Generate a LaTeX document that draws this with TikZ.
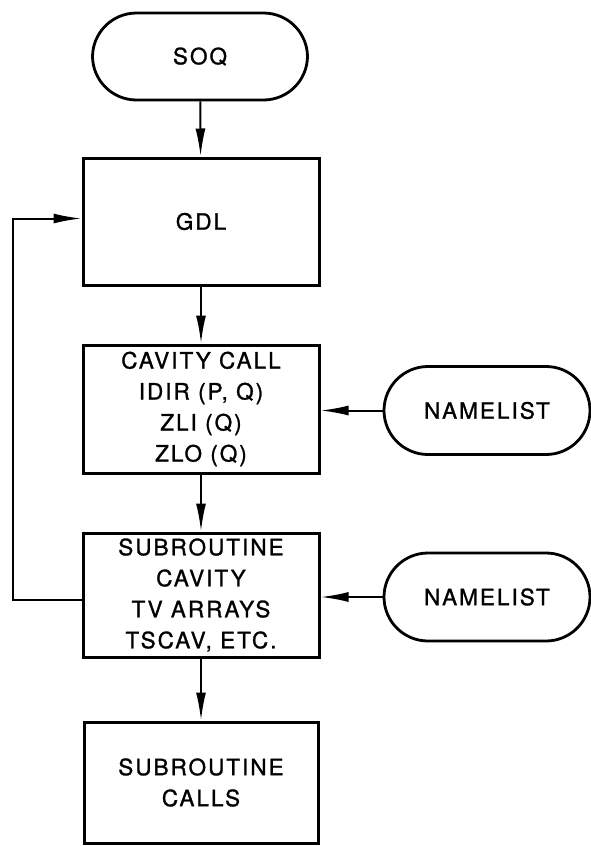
\documentclass[tikz,border=0pt]{standalone}
\usepackage{fontspec}
\newfontfamily\chartfont{TeX Gyre Heros}[LetterSpace=9, FakeBold=1.2]
\usetikzlibrary{arrows.meta,calc}

\begin{document}
\begin{tikzpicture}[x=1pt, y=-1pt,
    box/.style={draw, line width=3pt, rectangle, minimum width=236pt,
        align=center, inner sep=0pt,
        font=\chartfont\fontsize{22.5}{31}\selectfont},
    term/.style={draw, line width=2.8pt, rectangle, rounded corners=44pt,
        minimum height=88pt, align=center, inner sep=0pt,
        font=\chartfont\fontsize{22.5}{31}\selectfont},
    arr/.style={line width=2pt, -{Latex[length=28pt,width=10pt]}}]

    \useasboundingbox (0,0) rectangle (591,846);

    % 開始
    \node[term, minimum width=215pt, minimum height=87pt] (soq) at (200,56.5) {SOQ};

    % 処理ボックス
    \node[box, minimum height=127pt] (gdl) at (201,221.5) {GDL};
    \node[box, minimum height=128pt] (cavcall) at (201,409)
        {CAVITY CALL\\IDIR (P, Q)\\ZLI (Q)\\ZLO (Q)};
    \node[box, minimum height=124pt] (subcav) at (201,595)
        {SUBROUTINE\\CAVITY\\TV ARRAYS\\TSCAV, ETC.};
    \node[box, minimum height=121pt, minimum width=234pt] (subcalls) at (201,782.5)
        {SUBROUTINE\\CALLS};

    % NAMELIST
    \node[term, minimum width=206pt] (nml1) at (487,410.5) {NAMELIST};
    \node[term, minimum width=206pt] (nml2) at (487,597) {NAMELIST};

    % 縦の流れ
    \draw[arr] (soq) -- (gdl);
    \draw[arr] (gdl) -- (cavcall);
    \draw[arr] (cavcall) -- (subcav);
    \draw[arr] (subcav) -- (subcalls);

    % NAMELIST からの入力
    \draw[arr] (nml1.west) -- (cavcall.east |- nml1.west);
    \draw[arr] (nml2.west) -- (subcav.east |- nml2.west);

    % 戻りのループ
    \coordinate (back) at (13,0);
    \draw[arr] ($(subcav.west)+(0,5)$) -- ($(subcav.west -| back)+(0,5)$)
        |- ($(gdl.west)+(0,-3)$);

\end{tikzpicture}
\end{document}
